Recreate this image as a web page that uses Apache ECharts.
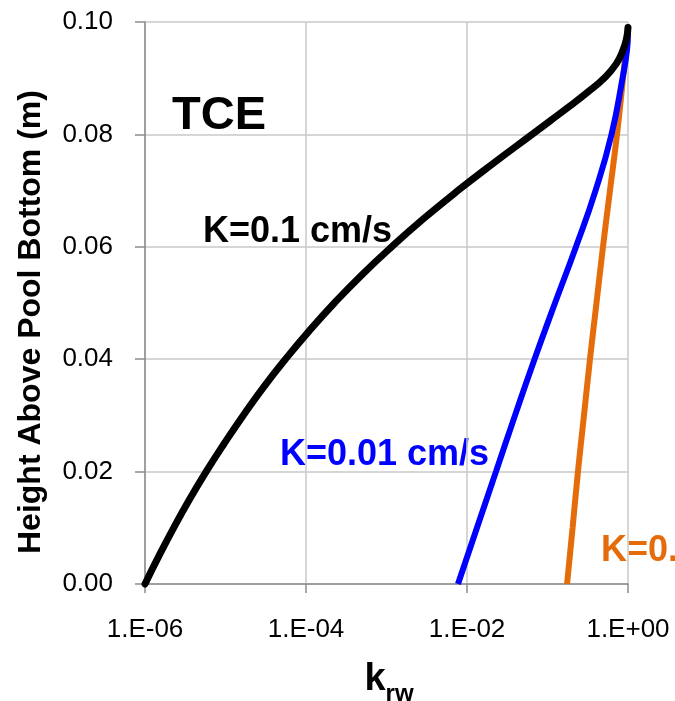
<!DOCTYPE html>
<html>
<head>
<meta charset="utf-8">
<script src="https://cdn.jsdelivr.net/npm/echarts@6/dist/echarts.min.js"></script>
<style>html,body{margin:0;padding:0;background:#fff}#c{width:675px;height:701px}</style>
</head>
<body>
<div id="c"></div>
<script>
// K = 0.1 cm/s (black)
const krwK01 = [1.0e-6, 1.49e-6, 2.27e-6, 3.55e-6, 5.75e-6, 9.64e-6, 1.66e-5, 2.96e-5, 5.55e-5, 1.09e-4,
                2.25e-4, 4.93e-4, 1.16e-3, 2.89e-3, 7.71e-3, 2.19e-2, 6.44e-2, 0.110, 0.188, 0.314,
                0.504, 0.710, 0.867, 0.958, 1.0];
const hK01   = [0.000, 0.005, 0.010, 0.015, 0.020, 0.025, 0.030, 0.035, 0.040, 0.045,
                0.050, 0.055, 0.060, 0.065, 0.070, 0.075, 0.080, 0.0825, 0.085, 0.0875,
                0.090, 0.0925, 0.095, 0.097, 0.099];
// K = 0.01 cm/s (blue)
const krwK001 = [7.73e-3, 1.33e-2, 2.29e-2, 3.95e-2, 6.90e-2, 0.124, 0.226, 0.395, 0.624, 0.855, 0.972, 1.0];
const hK001   = [0.000, 0.010, 0.020, 0.030, 0.040, 0.050, 0.060, 0.070, 0.080, 0.090, 0.095, 0.098];
// K = 0.001 cm/s (orange)
const krwK0001 = [0.175, 0.205, 0.239, 0.284, 0.337, 0.406, 0.489, 0.597, 0.730, 0.867, 1.0];
const hK0001   = [0.000, 0.010, 0.020, 0.030, 0.040, 0.050, 0.060, 0.070, 0.080, 0.090, 0.099];

const xTicks = ['1.E-06', '1.E-04', '1.E-02', '1.E+00'];
const yTicks = ['0.00', '0.02', '0.04', '0.06', '0.08', '0.10'];

const pairs = (xs, ys) => xs.map((x, i) => [x, ys[i]]);

const chart = echarts.init(document.getElementById('c'), null, {renderer: 'canvas'});
const gridCol = '#c8c8c8';
const axisCol = '#8c8c8c';
const font = 'Liberation Sans, Arial, sans-serif';

chart.setOption({
  animation: false,
  backgroundColor: '#fff',
  grid: {left: 145, right: 47, top: 22, bottom: 117},
  xAxis: {
    type: 'log', logBase: 10, min: 1e-6, max: 1, interval: 2,
    axisLine: {lineStyle: {color: axisCol, width: 1.5}},
    axisTick: {show: true, length: 9, lineStyle: {color: axisCol, width: 1.5}},
    splitLine: {show: true, lineStyle: {color: gridCol, width: 1.5}},
    minorTick: {show: false}, minorSplitLine: {show: false},
    axisLabel: {
      margin: 33, color: '#000', fontSize: 26, fontFamily: font,
      formatter: function (v) {
        const e = Math.round(Math.log10(v));
        return xTicks[(e + 6) / 2] || '';
      }
    }
  },
  yAxis: {
    type: 'value', min: 0, max: 0.1, interval: 0.02,
    axisLine: {show: true, lineStyle: {color: axisCol, width: 1.5}},
    axisTick: {show: true, length: 10, lineStyle: {color: axisCol, width: 1.5}},
    splitLine: {show: true, lineStyle: {color: gridCol, width: 1.5}},
    axisLabel: {
      margin: 32, color: '#000', fontSize: 26, fontFamily: font,
      formatter: function (v) { return yTicks[Math.round(v / 0.02)]; }
    }
  },
  series: [
    {type: 'line', name: 'K=0.001 cm/s', data: pairs(krwK0001, hK0001), showSymbol: false, smooth: 0.5,
     clip: false, lineStyle: {color: '#E46C0A', width: 6}, z: 2},
    {type: 'line', name: 'K=0.01 cm/s', data: pairs(krwK001, hK001), showSymbol: false, smooth: 0.5,
     clip: false, lineStyle: {color: '#0000FF', width: 6}, z: 3},
    {type: 'line', name: 'K=0.1 cm/s', data: pairs(krwK01, hK01), showSymbol: false, smooth: 0.5,
     clip: false, lineStyle: {color: '#000000', width: 7, cap: 'round', join: 'round'}, z: 4}
  ],
  graphic: [
    {type: 'text', x: 172, y: 93, style: {text: 'TCE', font: 'bold 47px ' + font, fill: '#000', verticalAlign: 'alphabetic'}},
    {type: 'text', x: 203, y: 214, style: {text: 'K=0.1 cm/s', font: 'bold 36px ' + font, fill: '#000', verticalAlign: 'alphabetic'}},
    {type: 'text', x: 280, y: 437, style: {text: 'K=0.01 cm/s', font: 'bold 36px ' + font, fill: '#0000FF', verticalAlign: 'alphabetic'}},
    {type: 'text', x: 601, y: 533, style: {text: 'K=0.', font: 'bold 36px ' + font, fill: '#E46C0A', verticalAlign: 'alphabetic'}},
    {type: 'text', x: 31, y: 322, rotation: Math.PI / 2,
     style: {text: 'Height Above Pool Bottom (m)', font: 'bold 32px ' + font, fill: '#000', align: 'center', verticalAlign: 'middle'}},
    {type: 'text', x: 389, y: 680,
     style: {
       text: '{k|k}{s|rw}', align: 'center', verticalAlign: 'middle',
       rich: {
         k: {font: 'bold 38px ' + font, fill: '#000', verticalAlign: 'bottom'},
         s: {font: 'bold 24px ' + font, fill: '#000', verticalAlign: 'bottom', padding: [0, 0, -7, 0]}
       }
     }}
  ]
});
</script>
</body>
</html>
